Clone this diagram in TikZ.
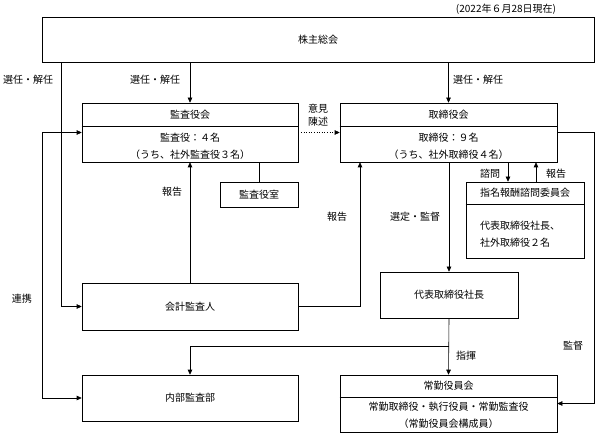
\documentclass[tikz,border=0pt]{standalone}
\usepackage{fontspec}
\setmainfont{Noto Sans CJK JP}
\usetikzlibrary{positioning, arrows.meta}

\begin{document}
\begin{tikzpicture}[x=1pt, y=-1pt, >={Triangle[length=5pt,width=4.5pt]},
                line width=0.6pt, font=\fontsize{10}{17}\selectfont,
                box/.style={draw, rectangle, inner sep=0pt},
                lbl/.style={inner sep=1pt, align=center}]
    \useasboundingbox (0,0) rectangle (596,435);

    % boxes
    \node[lbl] (date) at (506,9) {(2022年６月28日現在)};
    \node[box, minimum width=552pt, minimum height=45pt] (soukai) at (318,39.5) {株主総会};

    \node[box, minimum width=216pt, minimum height=59pt] (kansayaku) at (190,132.5) {};
    \node[lbl] (kansayakutitle) at (190,114.5) {監査役会};
    \node[lbl] (kansayakubody) at (190,146) {監査役：４名\\（うち、社外監査役３名）};
    \draw (kansayaku.west |- 0,126) -- (kansayaku.east |- 0,126);

    \node[box, minimum width=217pt, minimum height=59pt] (torishimari) at (448.5,132.5) {};
    \node[lbl] (torishimarititle) at (448.5,114.5) {取締役会};
    \node[lbl] (torishimaribody) at (448.5,146) {取締役：９名\\（うち、社外取締役４名）};
    \draw (torishimari.west |- 0,126) -- (torishimari.east |- 0,126);

    \node[box, minimum width=78pt, minimum height=25pt] (kansashitsu) at (259,194.5) {監査役室};

    \node[box, minimum width=118pt, minimum height=76pt] (iinkai) at (525,220) {};
    \node[lbl] (iinkaititle) at (525,193) {指名報酬諮問委員会};
    \node[lbl, align=left] (iinkaibody) at (520,234) {代表取締役社長、\\社外取締役２名};
    \draw (iinkai.west |- 0,204) -- (iinkai.east |- 0,204);

    \node[box, minimum width=216pt, minimum height=47pt] (kaikei) at (190,306.5) {会計監査人};
    \node[box, minimum width=138pt, minimum height=46pt] (shacho) at (449,295) {代表取締役社長};
    \node[box, minimum width=216pt, minimum height=46pt] (naibu) at (190,398) {内部監査部};

    \node[box, minimum width=217pt, minimum height=57pt] (joukin) at (448.5,403.5) {};
    \node[lbl] (joukintitle) at (448.5,386) {常勤役員会};
    \node[lbl] (joukinbody) at (448.5,415) {常勤取締役・執行役員・常勤監査役\\（常勤役員会構成員）};
    \draw (joukin.west |- 0,397) -- (joukin.east |- 0,397);

    % connectors
    \draw[->] (soukai.south -| 61,0) |- (kaikei.west);
    \draw[->] (soukai.south -| kansayaku.north) -- (kansayaku.north);
    \draw[->] (soukai.south -| torishimari.north) -- (torishimari.north);
    \draw[<->] (kansayaku.west) -- ++(-39,0) |- (naibu.west);
    \draw[->, dotted] (kansayaku.east) -- (torishimari.west);
    \draw (kansashitsu.north) -- (kansashitsu.north |- kansayaku.south);
    \draw[->] (kaikei.north) -- (kansayaku.south);
    \draw[->] (kaikei.east) -| (torishimari.south -| 360,0);
    \draw[->] (torishimari.south -| shacho.north) -- (shacho.north);
    \draw[->] (torishimari.south -| 508,0) -- (iinkai.north -| 508,0);
    \draw[<-] (torishimari.south -| 536,0) -- (iinkai.north -| 536,0);
    \draw[->] (torishimari.east) -- ++(37,0) |- (joukin.east);
    \draw[->] (shacho.south) -- (joukin.north);
    \draw[->] (shacho.south |- 0,346) -| (naibu.north);

    % labels
    \node[lbl] (l1) at (28,80) {選任・解任};
    \node[lbl] (l2) at (155,80) {選任・解任};
    \node[lbl] (l3) at (478,80) {選任・解任};
    \node[lbl] (l4) at (318,115) {意見\\[-4pt]陳述};
    \node[lbl] (l5) at (172,192) {報告};
    \node[lbl] (l6) at (337,217) {報告};
    \node[lbl] (l7) at (415,217) {選定・監督};
    \node[lbl] (l8) at (490,174) {諮問};
    \node[lbl] (l9) at (556,174) {報告};
    \node[lbl] (l10) at (22,299) {連携};
    \node[lbl] (l11) at (573,346) {監督};
    \node[lbl] (l12) at (466,356) {指揮};
\end{tikzpicture}
\end{document}
